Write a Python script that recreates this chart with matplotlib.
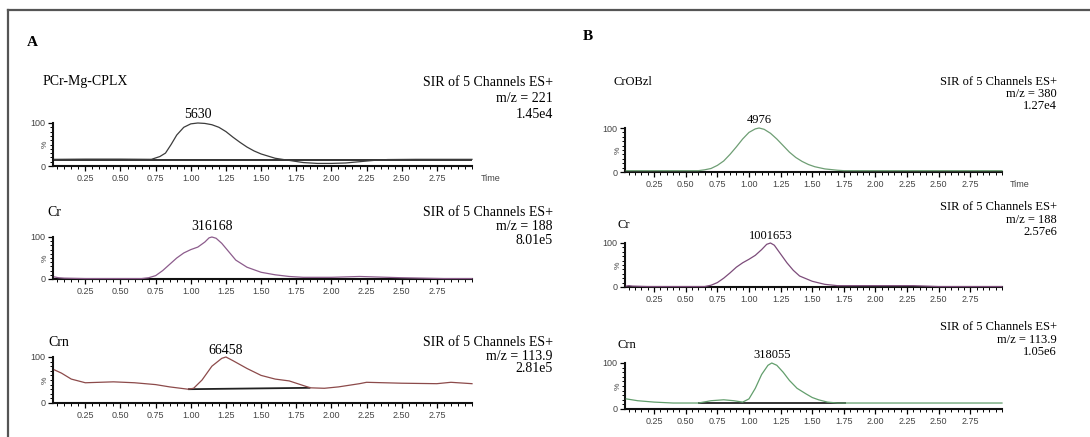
import numpy as np
import matplotlib
matplotlib.use("Agg")
import matplotlib.pyplot as plt
from matplotlib.ticker import MultipleLocator, FixedLocator, FormatStrFormatter
from matplotlib.lines import Line2D

W, H = 1090, 437

# ---- chromatogram traces (time in min, relative intensity in %) ----
pcr_t = [0.03, 0.25, 0.50, 0.72, 0.78, 0.82, 0.86, 0.90, 0.95, 1.00, 1.05, 1.10, 1.15,
         1.20, 1.25, 1.30, 1.35, 1.40, 1.45, 1.50, 1.55, 1.60, 1.70, 1.80, 1.90, 2.00,
         2.10, 2.20, 2.30, 2.40, 2.60, 2.80, 3.00]
pcr_i = [15.5, 16, 16, 15.5, 22, 30, 50, 72, 90, 98, 100, 99, 96,
         90, 80, 67, 55, 44, 35, 28, 23, 18, 13, 8, 6, 6,
         7, 10, 13, 15, 15.5, 15.5, 15.5]

crA_t = [0.03, 0.06, 0.10, 0.25, 0.50, 0.65, 0.70, 0.75, 0.80, 0.85, 0.90, 0.95, 1.00,
         1.05, 1.10, 1.13, 1.15, 1.18, 1.22, 1.27, 1.32, 1.40, 1.50, 1.60, 1.70, 1.80,
         2.00, 2.20, 2.30, 2.50, 2.80, 3.00]
crA_i = [5, 3, 2, 1, 1, 1, 3, 8, 20, 35, 50, 62, 70,
         76, 88, 98, 100, 97, 85, 65, 45, 28, 16, 10, 6, 4,
         4, 6, 5, 3, 1, 1]

crnA_t = [0.03, 0.08, 0.15, 0.25, 0.45, 0.60, 0.75, 0.85, 0.98, 1.02, 1.08, 1.15, 1.22,
          1.25, 1.30, 1.40, 1.50, 1.60, 1.70, 1.80, 1.85, 1.95, 2.05, 2.20, 2.25, 2.50,
          2.75, 2.85, 3.00]
crnA_i = [72, 65, 52, 44, 46, 44, 40, 35, 30, 32, 50, 80, 97,
          100, 92, 75, 60, 52, 48, 38, 33, 32, 35, 42, 45, 43,
          42, 45, 42]

obz_t = [0.03, 0.30, 0.60, 0.65, 0.70, 0.75, 0.80, 0.85, 0.90, 0.95, 1.00, 1.05, 1.08,
         1.12, 1.17, 1.22, 1.27, 1.32, 1.37, 1.42, 1.47, 1.52, 1.60, 1.70, 1.75, 2.20,
         2.60, 3.00]
obz_i = [3, 3, 3, 5, 8, 15, 25, 40, 57, 75, 90, 98, 100,
         97, 88, 75, 60, 45, 33, 24, 17, 12, 7, 4, 3, 3,
         3, 3]

crB_t = [0.03, 0.05, 0.08, 0.20, 0.50, 0.65, 0.70, 0.75, 0.80, 0.85, 0.90, 0.95, 1.00,
         1.05, 1.10, 1.14, 1.17, 1.20, 1.25, 1.30, 1.35, 1.40, 1.50, 1.60, 1.70, 2.00,
         2.30, 2.50, 3.00]
crB_i = [2, 3, 2, 1, 1, 1, 4, 10, 20, 32, 45, 55, 63,
         72, 85, 97, 100, 95, 75, 55, 38, 25, 13, 6, 3, 3,
         3, 1, 1]

crnB_t = [0.03, 0.12, 0.25, 0.40, 0.60, 0.70, 0.80, 0.88, 0.95, 1.00, 1.05, 1.10, 1.15,
          1.18, 1.22, 1.27, 1.32, 1.38, 1.45, 1.50, 1.55, 1.62, 1.70, 2.20, 2.60, 3.00]
crnB_i = [22, 18, 15, 13, 13, 18, 20, 18, 15, 22, 45, 75, 95,
          100, 95, 80, 62, 45, 33, 25, 20, 15, 13, 13, 13, 13]

# integration baselines: (start time, start %, end time, end %)
pcr_base = (0.03, 15, 3.00, 15)
crA_base = (0.72, 0, 1.75, 0)
crnA_base = (0.98, 30, 1.85, 33)
obz_base = (0.65, 1, 1.72, 1)
crB_base = (0.62, 0, 2.40, 0)
crnB_base = (0.60, 13, 1.77, 13)

# peak areas shown above each apex
peak_labels = ["5630", "316168", "66458", "4976", "1001653", "318055"]
compounds = ["PCr-Mg-CPLX", "Cr", "Crn", "CrOBzl", "Cr", "Crn"]
mz_values = ["221", "188", "113.9", "380", "188", "113.9"]
intensities = ["1.45e4", "8.01e5", "2.81e5", "1.27e4", "2.57e6", "1.05e6"]
header = "SIR of 5 Channels ES+"

x_ticks = [0.25, 0.50, 0.75, 1.00, 1.25, 1.50, 1.75, 2.00, 2.25, 2.50, 2.75]

traces = [(pcr_t, pcr_i, pcr_base), (crA_t, crA_i, crA_base), (crnA_t, crnA_i, crnA_base),
          (obz_t, obz_i, obz_base), (crB_t, crB_i, crB_base), (crnB_t, crnB_i, crnB_base)]
colors = ["#3c3c3c", "#8c5c8c", "#8c4a4a", "#6e9e74", "#7c4c7a", "#629e6c"]

# ---- layout in pixels: (left, right, y of 100 %, y of 0 %) ----
boxes = [(53, 472, 123, 166), (53, 472, 237, 279), (53, 472, 357, 403),
         (625, 1002, 128, 172), (625, 1002, 243, 287), (625, 1002, 363, 409)]
name_pos = [(43, 82), (47, 213), (48, 343), (613, 82), (617, 225), (617, 345)]
hdr_pos = [(553, (82, 99, 115)), (553, (213, 227, 240)), (553, (343, 357, 369)),
           (1057, (82, 94, 106)), (1057, (207, 220, 232)), (1057, (327, 340, 352))]
hdr_size = [10, 10, 10, 9, 9, 9]
peak_y = [114, 227, 350, 120, 236, 355]
show_time = [True, False, False, True, False, False]

SERIF = ["Liberation Serif", "DejaVu Serif"]
SANS = ["Liberation Sans", "DejaVu Sans"]

fig = plt.figure(figsize=(W / 100, H / 100), dpi=100)


def px(x, y):
    return x / W, 1 - y / H


# outer frame (top and left edges)
fig.add_artist(Line2D([px(8, 0)[0], 1.0], [px(0, 10)[1]] * 2, color="#555555", lw=1.6))
fig.add_artist(Line2D([px(8, 0)[0]] * 2, [px(0, 10)[1], 0.0], color="#555555", lw=1.6))

fig.text(*px(27, 42), "A", fontsize=11, fontweight="bold", family=SERIF, va="center")
fig.text(*px(583, 37), "B", fontsize=11, fontweight="bold", family=SERIF, va="center")

for k, ((t, inten, base), col) in enumerate(zip(traces, colors)):
    x0, x1, y100, y0 = boxes[k]
    ax = fig.add_axes([x0 / W, 1 - y0 / H, (x1 - x0) / W, (y0 - y100) / H])
    ax.set_xlim(0.02, 3.0)
    ax.set_ylim(0, 100)
    ax.plot([base[0], base[2]], [base[1], base[3]], color="#222222", lw=1.3,
            solid_capstyle="butt", zorder=2)
    ax.plot(t, inten, color=col, lw=0.9, zorder=3, clip_on=False)

    for s in ("top", "right"):
        ax.spines[s].set_visible(False)
    for s in ("left", "bottom"):
        ax.spines[s].set_linewidth(1.5)
        ax.spines[s].set_color("#111111")

    ax.xaxis.set_major_locator(FixedLocator(x_ticks))
    ax.xaxis.set_major_formatter(FormatStrFormatter("%.2f"))
    ax.xaxis.set_minor_locator(MultipleLocator(0.05))
    ax.set_yticks([0, 100])
    ax.set_yticklabels(["0", "100"])
    ax.yaxis.set_minor_locator(MultipleLocator(10))
    ax.tick_params(axis="both", which="major", direction="out", length=3.5, width=0.9,
                   labelsize=6.5, labelcolor="#444444", pad=2)
    ax.tick_params(axis="both", which="minor", direction="out", length=2, width=0.7)
    for lab in ax.get_xticklabels() + ax.get_yticklabels():
        lab.set_family(SANS)
    ax.text(-0.018, 0.5, "%", transform=ax.transAxes, rotation=90, fontsize=6,
            color="#444444", ha="center", va="center", family=SANS)

    if show_time[k]:
        ax.text(1.02, -0.28, "Time", transform=ax.transAxes, fontsize=6.5,
                color="#444444", ha="left", va="center", family=SANS)

    # compound name and acquisition header
    fig.text(*px(*name_pos[k]), compounds[k], fontsize=hdr_size[k], family=SERIF,
             va="center", ha="left")
    hx, hys = hdr_pos[k]
    for txt, hy in zip([header, "m/z = " + mz_values[k], intensities[k]], hys):
        fig.text(*px(hx, hy), txt, fontsize=hdr_size[k], family=SERIF,
                 va="center", ha="right")

    # peak area above the apex
    apex = t[int(np.argmax(inten))]
    xa = ax.transData.transform((apex, 0))[0]
    fig.text(xa / fig.dpi / fig.get_figwidth(), 1 - peak_y[k] / H, peak_labels[k],
             fontsize=hdr_size[k], family=SERIF, ha="center", va="center")

fig.savefig("out.png", dpi=100, facecolor="white")
